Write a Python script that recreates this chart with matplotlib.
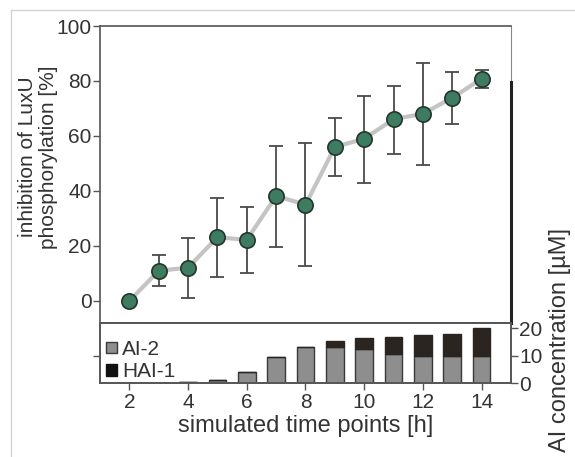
import numpy as np
import matplotlib.pyplot as plt
from matplotlib.patches import Patch
from matplotlib.lines import Line2D

plt.rcParams['font.family'] = ['Liberation Sans', 'DejaVu Sans']

# time points [h]
hours = np.arange(2, 15)

# inhibition of LuxU phosphorylation [%] with error bar ends
inhibition = [0, 11.0, 12.1, 23.2, 22.2, 38.2, 35.0, 56.0, 59.0, 66.1, 68.1, 73.9, 80.8]
err_high = [0, 16.7, 22.8, 37.3, 34.1, 56.5, 57.3, 66.5, 74.7, 78.3, 86.4, 83.4, 84.0]
err_low = [0, 5.6, 1.2, 8.6, 10.3, 19.6, 12.6, 45.5, 43.0, 53.5, 49.5, 64.5, 77.4]

# autoinducer concentrations [uM]
ai2 = [0, 0, 0.3, 1.2, 4.1, 9.6, 13.0, 13.3, 12.5, 10.7, 9.9, 9.9, 9.9]
hai1 = [0, 0, 0, 0, 0, 0, 0, 2.1, 3.9, 6.0, 7.7, 7.9, 10.3]

text_col = '#333333'
spine_col = '#555555'
tick_fs = 15

fig = plt.figure(figsize=(5.75, 4.57), dpi=100)
ax = fig.add_axes([0.1739, 0.2939, 0.7148, 0.6492])
axb = fig.add_axes([0.1739, 0.1613, 0.7148, 0.1326])

inh = np.array(inhibition)
yerr = [inh - np.array(err_low), np.array(err_high) - inh]

ax.plot(hours, inh, color='#c4c4c4', lw=3, zorder=1)
ax.errorbar(hours, inh, yerr=yerr, fmt='none', ecolor='#4a4a4a',
            elinewidth=1.3, capsize=5, capthick=1.3, zorder=2)
ax.plot(hours, inh, 'o', ms=11, mfc='#3e7c61', mec='#25352b', mew=1.2, zorder=3)

ax.set_xlim(1, 15)
ax.set_ylim(-7.9, 100)
ax.set_yticks([0, 20, 40, 60, 80, 100])
ax.set_xticks([])
ax.tick_params(axis='y', direction='out', length=5, width=1, color=spine_col,
               labelsize=tick_fs, labelcolor=text_col, pad=1)
for s in ax.spines.values():
    s.set_color(spine_col)
    s.set_linewidth(1.2)
ax.spines['right'].set_color('#888888')
ax.spines['right'].set_linewidth(0.8)
# heavy stroke on the right edge
ax.plot([1, 1], [0, 0.81], transform=ax.transAxes, color='#222222',
        lw=2.2, clip_on=False, zorder=4)

# stacked bars of autoinducer concentrations
bar_w = 0.6
axb.bar(hours, ai2, width=bar_w, color='#8e8e8e', edgecolor='#3a3a3a', lw=1)
axb.bar(hours, hai1, width=bar_w, bottom=ai2, color='#2a2520', edgecolor='#2a2520', lw=1)
axb.set_xlim(1, 15)
axb.set_ylim(0, 22)
axb.set_xticks([2, 4, 6, 8, 10, 12, 14])
axb.set_yticks([10])
axb.set_yticklabels([])
axb.tick_params(axis='both', direction='out', length=5, width=1, color=spine_col,
                labelsize=tick_fs, labelcolor=text_col, pad=2)

axr = axb.twinx()
axr.set_ylim(0, 22)
axr.set_yticks([0, 10, 20])
axr.tick_params(axis='y', direction='out', length=5, width=1, color=spine_col,
                labelsize=tick_fs, labelcolor=text_col, pad=1)
for a in (axb, axr):
    for s in a.spines.values():
        s.set_color(spine_col)
        s.set_linewidth(1.2)

handles = [Patch(facecolor='#8e8e8e', edgecolor='#3a3a3a', label='AI-2'),
           Patch(facecolor='#111111', edgecolor='#111111', label='HAI-1')]
axb.legend(handles=handles, loc='upper left', bbox_to_anchor=(0, 0.82),
           frameon=False, fontsize=15,
           handlelength=0.5, handleheight=0.5, handletextpad=0.25,
           labelspacing=0.15, borderaxespad=0.1, borderpad=0.2,
           labelcolor=text_col)

axb.set_xlabel('simulated time points [h]', fontsize=17, color=text_col, labelpad=2)

fig.text(38 / 575, 1 - 157 / 457, 'inhibition of LuxU\nphosphorylation [%]',
         rotation=90, ha='center', va='center', fontsize=15, color=text_col,
         linespacing=1.15)
fig.text(560 / 575, 1 - 340 / 457, 'AI concentration [µM]', rotation=90,
         ha='center', va='center', fontsize=17, color=text_col)

# thin frame lines along the top and left edges
fig.add_artist(Line2D([11 / 575, 11 / 575], [0, 1 - 9.5 / 457],
                      transform=fig.transFigure, color='#d4d4d4', lw=1))
fig.add_artist(Line2D([11 / 575, 1], [1 - 9.5 / 457, 1 - 9.5 / 457],
                      transform=fig.transFigure, color='#d4d4d4', lw=1))

fig.savefig('out.png', dpi=100)
